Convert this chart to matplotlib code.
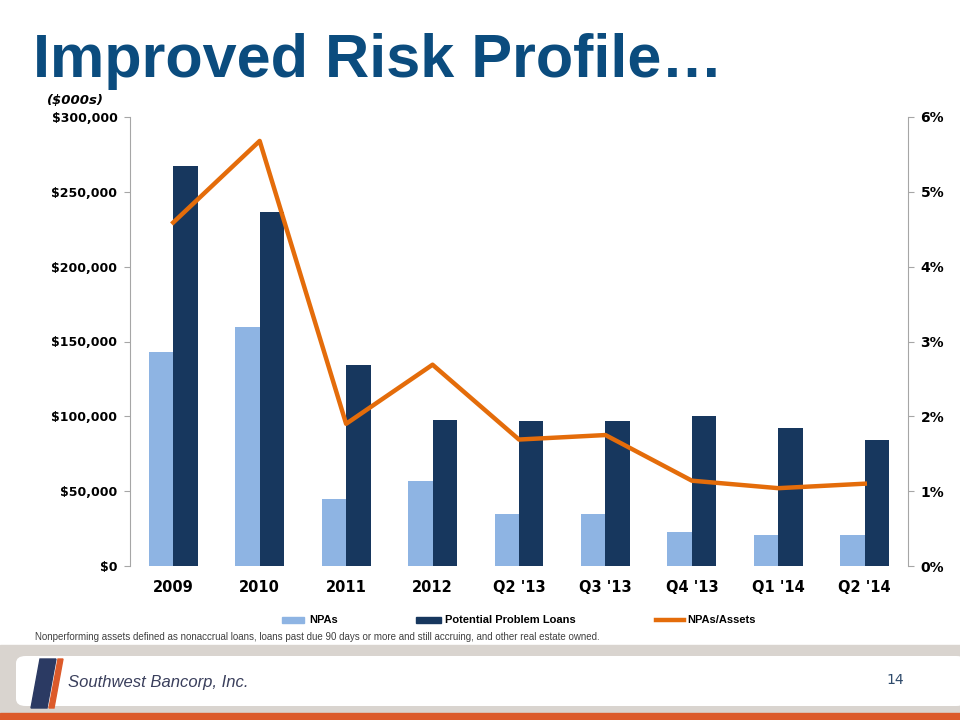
import matplotlib
matplotlib.use("Agg")
import matplotlib.pyplot as plt
import matplotlib.patches as mpatches
from matplotlib.ticker import FuncFormatter, PercentFormatter
import numpy as np

plt.rcParams.update({
    'font.family': ['DejaVu Sans'],
    'font.size': 9,
})

NARROW = ['Liberation Sans Narrow', 'DejaVu Sans Condensed', 'Liberation Sans']

LIGHT = "#8EB4E3"
DARK = "#17375E"
ORANGE = "#E46C0A"
TITLE_BLUE = "#0B4C7E"

categories = ["2009", "2010", "2011", "2012", "Q2 '13", "Q3 '13", "Q4 '13", "Q1 '14", "Q2 '14"]
npas = [143, 160, 45, 57, 34.5, 34.5, 22.5, 20.7, 20.7]            # $000s, thousands
problem_loans = [267, 236.5, 134, 97.5, 97, 97, 100, 92, 84]       # $000s, thousands
npa_assets = [4.59, 5.68, 1.90, 2.69, 1.69, 1.75, 1.14, 1.04, 1.10]  # percent

fig = plt.figure(figsize=(9.6, 7.2), dpi=100)
fig.patch.set_facecolor("white")

# footer bands
fig.patches.append(mpatches.Rectangle((0, 0), 1, 75 / 720, transform=fig.transFigure,
                                      color="#D9D4CF", zorder=0))
fig.patches.append(mpatches.FancyBboxPatch((16 / 960, 14 / 720), 950 / 960, 50 / 720,
                                           boxstyle="round,pad=0,rounding_size=0.01",
                                           transform=fig.transFigure, facecolor="white",
                                           edgecolor="none", zorder=1))
fig.patches.append(mpatches.Rectangle((0, 0), 1, 7 / 720, transform=fig.transFigure,
                                      color="#DC5A2A", zorder=2))

ax = fig.add_axes([130 / 960, 154 / 720, 778 / 960, 449 / 720])
x = np.arange(len(categories))
w = 0.283
ax.bar(x - w / 2, npas, width=w, color=LIGHT, label="NPAs", zorder=2)
ax.bar(x + w / 2, problem_loans, width=w, color=DARK, label="Potential Problem Loans", zorder=2)
ax.set_xlim(-0.5, len(categories) - 0.5)
ax.set_ylim(0, 300)
ax.set_yticks(np.arange(0, 301, 50))
ax.yaxis.set_major_formatter(FuncFormatter(lambda v, p: f"${int(v * 1000):,}"))
ax.set_xticks(x)
ax.set_xticklabels(categories)
for s in ["top", "bottom", "right"]:
    ax.spines[s].set_visible(False)
ax.spines["left"].set_color("#A6A6A6")
ax.tick_params(axis="y", length=4, color="#A6A6A6", labelsize=9, pad=5)
ax.tick_params(axis="x", length=0, labelsize=10.5, pad=10)
for t in ax.get_yticklabels() + ax.get_xticklabels():
    t.set_fontweight("bold")

ax2 = ax.twinx()
ax2.plot(x, npa_assets, color=ORANGE, lw=3.2, zorder=3, label="NPAs/Assets")
ax2.set_ylim(0, 6)
ax2.set_yticks(range(0, 7))
ax2.yaxis.set_major_formatter(PercentFormatter(decimals=0))
for s in ["top", "bottom", "left"]:
    ax2.spines[s].set_visible(False)
ax2.spines["right"].set_color("#A6A6A6")
ax2.tick_params(axis="y", length=4, color="#A6A6A6", labelsize=10, pad=5)
for t in ax2.get_yticklabels():
    t.set_fontweight("bold")

# title and unit label
fig.text(33 / 960, 1 - 62 / 720, "Improved Risk Profile\u2026", fontsize=44, fontweight="bold",
         color=TITLE_BLUE, family=['Liberation Sans', 'DejaVu Sans'], va="center", ha="left")
fig.text(75 / 960, 1 - 100 / 720, "($000s)", fontsize=9.5, fontweight="bold", style="italic",
         ha="center", va="center")

# legend
legend_y = 1 - 620 / 720
fig.patches.append(mpatches.Rectangle((282 / 960, legend_y - 3 / 720), 22 / 960, 6 / 720,
                                      transform=fig.transFigure, color=LIGHT))
fig.text(309 / 960, legend_y, "NPAs", fontsize=8, fontweight="bold", family=NARROW, va="center")
fig.patches.append(mpatches.Rectangle((416 / 960, legend_y - 3 / 720), 25 / 960, 6 / 720,
                                      transform=fig.transFigure, color=DARK))
fig.text(445 / 960, legend_y, "Potential Problem Loans", fontsize=8, fontweight="bold",
         family=NARROW, va="center")
fig.lines.append(plt.Line2D([656 / 960, 684 / 960], [legend_y, legend_y], transform=fig.transFigure,
                            color=ORANGE, lw=3.2))
fig.text(687 / 960, legend_y, "NPAs/Assets", fontsize=8, fontweight="bold", family=NARROW,
         va="center")

# footnote
fig.text(35 / 960, 1 - 637 / 720,
         "Nonperforming assets defined as nonaccrual loans, loans past due 90 days or more and still "
         "accruing, and other real estate owned.",
         fontsize=7, color="#404040", family=NARROW, va="center")

# logo
fig.patches.append(mpatches.Polygon([(31 / 960, 1 - 708 / 720), (40 / 960, 1 - 659 / 720),
                                     (56 / 960, 1 - 659 / 720), (47 / 960, 1 - 708 / 720)],
                                    closed=True, transform=fig.transFigure,
                                    color="#2B3A63", zorder=3))
fig.patches.append(mpatches.Polygon([(49 / 960, 1 - 708 / 720), (58 / 960, 1 - 659 / 720),
                                     (63 / 960, 1 - 659 / 720), (54 / 960, 1 - 708 / 720)],
                                    closed=True, transform=fig.transFigure,
                                    color="#DC5A2A", zorder=3))
fig.text(68 / 960, 1 - 682 / 720, "Southwest Bancorp, Inc.", fontsize=12, style="italic",
         color="#3A3F5C", family=NARROW, va="center", zorder=4)
fig.text(895 / 960, 1 - 680 / 720, "14", fontsize=10, color="#2E4A6B", va="center", ha="center",
         zorder=4)

fig.savefig("out.png", dpi=100)
